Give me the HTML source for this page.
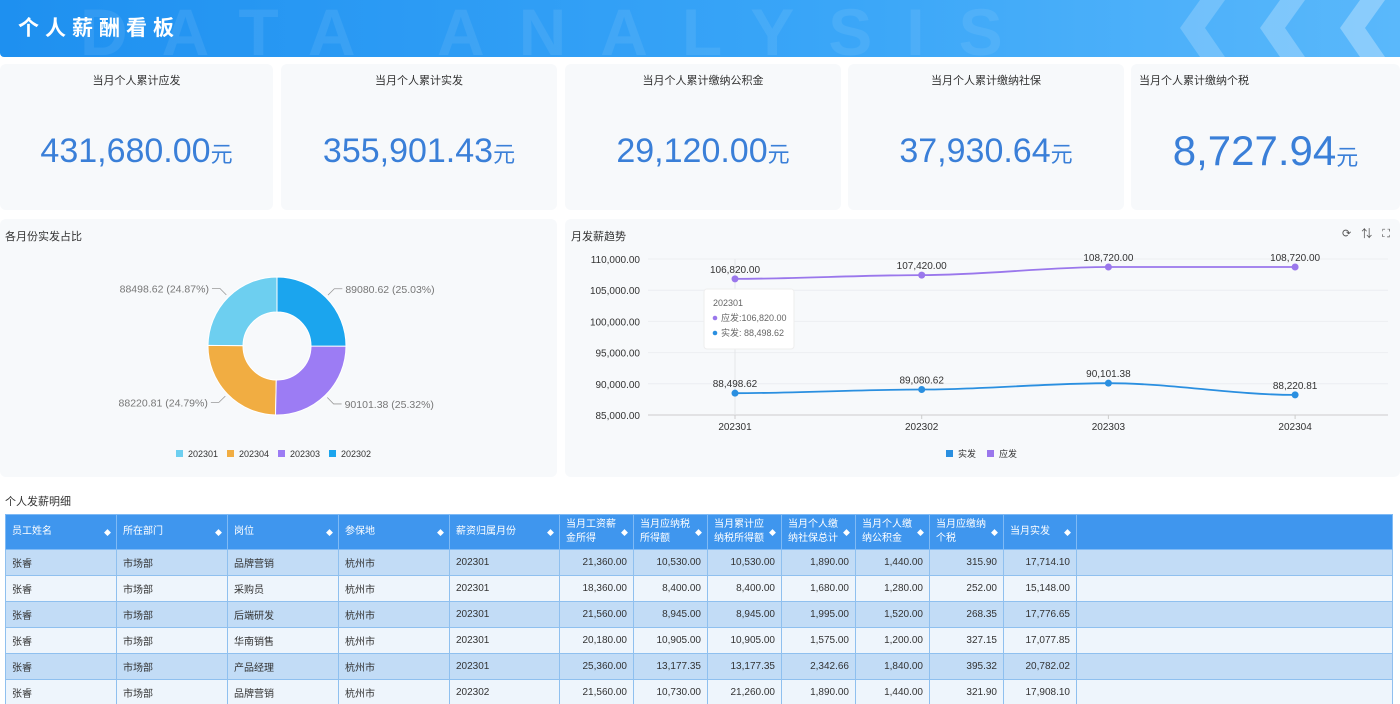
<!DOCTYPE html>
<html><head><meta charset="utf-8">
<style>
*{margin:0;padding:0;box-sizing:border-box}
body{width:1400px;height:704px;overflow:hidden;background:#fff;font-family:"Liberation Sans","Noto Sans CJK SC",sans-serif;position:relative}
.abs{position:absolute}
.banner{left:0;top:0;width:1400px;height:57px;background:linear-gradient(90deg,#1e90f0,#3aa6f8 60%,#5ab8fb);overflow:hidden;border-radius:0 0 0 4px}
.banner .t{left:18px;top:12px;color:#fff;font-size:21px;font-weight:bold;letter-spacing:6px}
.banner .bg{left:80px;top:-6px;color:rgba(255,255,255,0.08);font-size:66px;font-weight:bold;letter-spacing:34px;white-space:nowrap}
.card{background:#f7f9fb;border-radius:6px}
.kt{font-size:11px;color:#333;text-align:center;width:100%;top:72px}
.kv{color:#3a7fd8;font-size:34px;width:100%;text-align:center;top:130px}
.kv small{font-size:22px}
.sec{font-size:11px;color:#333}
table{border-collapse:collapse;font-size:10px;color:#333}
th{background:#3f96ee;color:#fff;font-weight:normal;text-align:left;padding:0 6px;border:1px solid #7fbaf5;height:35px;line-height:14px;position:relative}
th span.s{position:absolute;right:5px;top:12px;font-size:7px}
td{border:1px solid #8fc0ef;height:26px;padding:0 6px;vertical-align:middle}
tr.a td{background:#c2dcf6}
tr.b td{background:#eef5fc}
td.n{text-align:right}
</style></head><body>
<div class="abs banner">
 <div class="abs bg">DATA ANALYSIS</div>
 <svg class="abs" style="left:1180px;top:0" width="220" height="57">
  <polygon points="20,0 45,0 25,28 45,57 20,57 0,28" fill="rgba(255,255,255,0.2)"/>
  <polygon points="100,0 125,0 105,28 125,57 100,57 80,28" fill="rgba(255,255,255,0.25)"/>
  <polygon points="180,0 205,0 185,28 205,57 180,57 160,28" fill="rgba(255,255,255,0.3)"/>
 </svg>
 <div class="abs t">个人薪酬看板</div>
</div>

<div class="abs card" style="left:0;top:64px;width:273px;height:146px">
 <div class="abs kt" style="top:8px">当月个人累计应发</div><div class="abs kv" style="top:68px">431,680.00<small>元</small></div></div>
<div class="abs card" style="left:281px;top:64px;width:276px;height:146px">
 <div class="abs kt" style="top:8px">当月个人累计实发</div><div class="abs kv" style="top:68px">355,901.43<small>元</small></div></div>
<div class="abs card" style="left:565px;top:64px;width:276px;height:146px">
 <div class="abs kt" style="top:8px">当月个人累计缴纳公积金</div><div class="abs kv" style="top:68px">29,120.00<small>元</small></div></div>
<div class="abs card" style="left:848px;top:64px;width:276px;height:146px">
 <div class="abs kt" style="top:8px">当月个人累计缴纳社保</div><div class="abs kv" style="top:68px">37,930.64<small>元</small></div></div>
<div class="abs card" style="left:1131px;top:64px;width:269px;height:146px">
 <div class="abs kt" style="top:8px;text-align:left;left:8px">当月个人累计缴纳个税</div><div class="abs kv" style="top:63px;font-size:42px">8,727.94<small>元</small></div></div>

<div class="abs card" style="left:0;top:219px;width:557px;height:258px">
 <div class="abs sec" style="left:5px;top:9px">各月份实发占比</div>
</div>
<svg class="abs" id="pie" style="left:0;top:219px" width="557" height="258"></svg>

<div class="abs card" style="left:565px;top:219px;width:835px;height:258px">
 <div class="abs sec" style="left:6px;top:9px">月发薪趋势</div>
 <div class="abs" style="left:777px;top:6px;font-size:11px;color:#555;letter-spacing:10px">⟳⇅⛶</div>
</div>
<svg class="abs" id="line" style="left:565px;top:219px" width="835" height="258"></svg>

<div class="abs sec" style="left:5px;top:493px">个人发薪明细</div>
<div class="abs" style="left:5px;top:514px;width:1388px;height:190px;overflow:hidden">
<table style="width:1388px">
<colgroup><col style="width:111px"><col style="width:111px"><col style="width:111px"><col style="width:111px"><col style="width:110px"><col style="width:74px"><col style="width:74px"><col style="width:74px"><col style="width:74px"><col style="width:74px"><col style="width:74px"><col style="width:73px"><col></colgroup>
<tr>
<th>员工姓名<span class="s">◆</span></th>
<th>所在部门<span class="s">◆</span></th>
<th>岗位<span class="s">◆</span></th>
<th>参保地<span class="s">◆</span></th>
<th>薪资归属月份<span class="s">◆</span></th>
<th>当月工资薪<br>金所得<span class="s">◆</span></th>
<th>当月应纳税<br>所得额<span class="s">◆</span></th>
<th>当月累计应<br>纳税所得额<span class="s">◆</span></th>
<th>当月个人缴<br>纳社保总计<span class="s">◆</span></th>
<th>当月个人缴<br>纳公积金<span class="s">◆</span></th>
<th>当月应缴纳<br>个税<span class="s">◆</span></th>
<th>当月实发<span class="s">◆</span></th>
<th></th></tr>
<tr class="a"><td>张睿</td><td>市场部</td><td>品牌营销</td><td>杭州市</td><td>202301</td><td class="n">21,360.00</td><td class="n">10,530.00</td><td class="n">10,530.00</td><td class="n">1,890.00</td><td class="n">1,440.00</td><td class="n">315.90</td><td class="n">17,714.10</td><td></td></tr>
<tr class="b"><td>张睿</td><td>市场部</td><td>采购员</td><td>杭州市</td><td>202301</td><td class="n">18,360.00</td><td class="n">8,400.00</td><td class="n">8,400.00</td><td class="n">1,680.00</td><td class="n">1,280.00</td><td class="n">252.00</td><td class="n">15,148.00</td><td></td></tr>
<tr class="a"><td>张睿</td><td>市场部</td><td>后端研发</td><td>杭州市</td><td>202301</td><td class="n">21,560.00</td><td class="n">8,945.00</td><td class="n">8,945.00</td><td class="n">1,995.00</td><td class="n">1,520.00</td><td class="n">268.35</td><td class="n">17,776.65</td><td></td></tr>
<tr class="b"><td>张睿</td><td>市场部</td><td>华南销售</td><td>杭州市</td><td>202301</td><td class="n">20,180.00</td><td class="n">10,905.00</td><td class="n">10,905.00</td><td class="n">1,575.00</td><td class="n">1,200.00</td><td class="n">327.15</td><td class="n">17,077.85</td><td></td></tr>
<tr class="a"><td>张睿</td><td>市场部</td><td>产品经理</td><td>杭州市</td><td>202301</td><td class="n">25,360.00</td><td class="n">13,177.35</td><td class="n">13,177.35</td><td class="n">2,342.66</td><td class="n">1,840.00</td><td class="n">395.32</td><td class="n">20,782.02</td><td></td></tr>
<tr class="b"><td>张睿</td><td>市场部</td><td>品牌营销</td><td>杭州市</td><td>202302</td><td class="n">21,560.00</td><td class="n">10,730.00</td><td class="n">21,260.00</td><td class="n">1,890.00</td><td class="n">1,440.00</td><td class="n">321.90</td><td class="n">17,908.10</td><td></td></tr>
</table></div>

<script>
const NS="http://www.w3.org/2000/svg";
function mk(p,tag,at){const e=document.createElementNS(NS,tag);for(const k in at)e.setAttribute(k,at[k]);p.appendChild(e);return e;}
// ---- pie data ----
const pieCats=["202301","202304","202303","202302"];
const pieVals=[88498.62,88220.81,90101.38,89080.62];
const pieColors=["#6dcff0","#f1ad42","#9c7cf4","#1ba5ee"];
(function(){
 const svg=document.getElementById('pie');
 const cx=277,cy=127,R=69,r=34;
 const tot=pieVals.reduce((a,b)=>a+b,0);
 let a0=0;
 pieVals.forEach((v,i)=>{
  const a1=a0+v/tot*2*Math.PI;
  const P=(rad,a)=>[cx-rad*Math.sin(a),cy-rad*Math.cos(a)];
  const [x1,y1]=P(R,a0),[x2,y2]=P(R,a1),[x3,y3]=P(r,a1),[x4,y4]=P(r,a0);
  const lg=(a1-a0)>Math.PI?1:0;
  const p=mk(svg,'path',{d:`M${x1},${y1}A${R},${R} 0 ${lg} 0 ${x2},${y2}L${x3},${y3}A${r},${r} 0 ${lg} 1 ${x4},${y4}Z`,fill:pieColors[i],stroke:'#fff','stroke-width':1});
  
  
  const am=(a0+a1)/2;
  const [ex,ey]=P(R+3,am),[mx,my]=P(R+12,am);
  const left=Math.sin(am)>0;
  const hx=mx+(left?-8:8);
  mk(svg,'polyline',{points:`${ex},${ey} ${mx},${my} ${hx},${my}`,fill:'none',stroke:'#999','stroke-width':0.8});
  const t=mk(svg,'text',{x:hx+(left?-3:3),y:my+4,'font-size':10.5,fill:'#777','text-anchor':left?'end':'start'});
  t.textContent=v.toFixed(2)+' ('+(v/tot*100).toFixed(2)+'%)';
  
  
  a0=a1;
 });
 let lx=176;
 pieCats.forEach((c,i)=>{
  const g=mk(svg,'g',{});
  
  
  mk(g,'rect',{x:lx,y:231,width:7,height:7,fill:pieColors[i]});
  const t=mk(g,'text',{x:lx+12,y:238,'font-size':9,fill:'#333'});t.textContent=c;
  lx+=51;
 });
})();
// ---- line data ----
const months=["202301","202302","202303","202304"];
const actual=[88498.62,89080.62,90101.38,88220.81];
const payable=[106820.00,107420.00,108720.00,108720.00];
const yTicks=[85000,90000,95000,100000,105000,110000];
(function(){
 const svg=document.getElementById('line');
 const y0=196,y1=40,vmin=85000,vmax=110000;
 const Y=v=>y0-(v-vmin)/(vmax-vmin)*(y0-y1);
 const X=i=>170+i*186.7;
 const fmt=v=>v.toLocaleString('en-US',{minimumFractionDigits:2,maximumFractionDigits:2});
 yTicks.forEach(v=>{
  mk(svg,'line',{x1:83,x2:823,y1:Y(v),y2:Y(v),stroke:v===vmin?'#ccc':'#eceef2','stroke-width':1});
  const t=mk(svg,'text',{x:75,y:Y(v)+4,'font-size':10,fill:'#333','text-anchor':'end'});t.textContent=fmt(v);
  
  
 });
 months.forEach((m,i)=>{
  mk(svg,'line',{x1:X(i),x2:X(i),y1:y0,y2:y0+4,stroke:'#ccc'});
  const t=mk(svg,'text',{x:X(i),y:y0+15,'font-size':10,fill:'#333','text-anchor':'middle'});t.textContent=m;
  
  
 });
 mk(svg,'line',{x1:X(0),x2:X(0),y1:y1,y2:y0,stroke:'#e4e6ea'});
 function series(vals,color,name){
  let d='';
  vals.forEach((v,i)=>{
   const x=X(i),y=Y(v);
   if(i===0)d=`M${x},${y}`;else{const px=X(i-1),py=Y(vals[i-1]);d+=`C${px+62},${py} ${x-62},${y} ${x},${y}`;}
  });
  const p=mk(svg,'path',{d,fill:'none',stroke:color,'stroke-width':1.8});
  
  
  vals.forEach((v,i)=>{
   const c=mk(svg,'circle',{cx:X(i),cy:Y(v),r:3.5,fill:color});
   
   
   const t=mk(svg,'text',{x:X(i),y:Y(v)-6,'font-size':10,fill:'#333','text-anchor':'middle'});t.textContent=fmt(v);
  });
 }
 series(payable,'#9a77ec','payable');
 series(actual,'#2a8fe0','actual');
 const g=mk(svg,'g',{});
 
 
 mk(g,'rect',{x:139,y:70,width:90,height:60,rx:3,fill:'#fff',stroke:'#eee'});
 let t=mk(g,'text',{x:148,y:87,'font-size':9,fill:'#666'});t.textContent=months[0];
 mk(g,'circle',{cx:150,cy:99,r:2.3,fill:'#9a77ec'});
 t=mk(g,'text',{x:156,y:102,'font-size':9,fill:'#666'});t.textContent='应发:'+fmt(payable[0]);
 mk(g,'circle',{cx:150,cy:114,r:2.3,fill:'#2a8fe0'});
 t=mk(g,'text',{x:156,y:117,'font-size':9,fill:'#666'});t.textContent='实发: '+fmt(actual[0]);
 const L=[['实发','#2a8fe0'],['应发','#9a77ec']];
 L.forEach((l,i)=>{
  const lg=mk(svg,'g',{});
  
  
  mk(lg,'rect',{x:381+i*41,y:231,width:7,height:7,fill:l[1]});
  const tt=mk(lg,'text',{x:393+i*41,y:238,'font-size':9,fill:'#333'});tt.textContent=l[0];
 });
})();
</script>
</body></html>
